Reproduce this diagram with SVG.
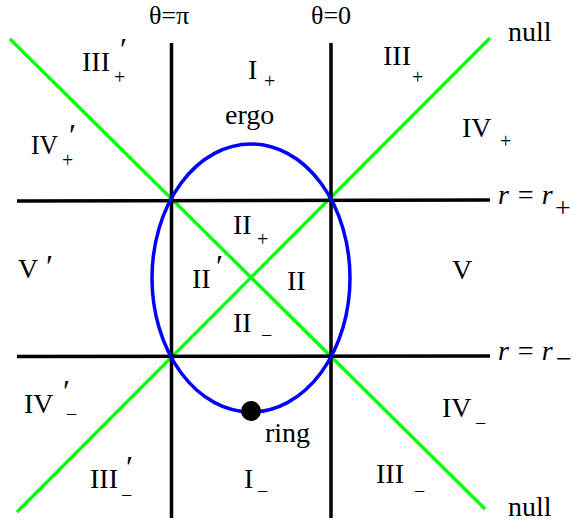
<svg xmlns="http://www.w3.org/2000/svg" width="573" height="525" viewBox="0 0 573 525">
<style>
text{font-family:"Liberation Serif","Times New Roman",serif;fill:#000}
.m{font-size:28px}
.t{font-size:26px}
.s{font-size:20px}
.p{font-size:32px}
.it{font-style:italic}
.blk{stroke:#000;stroke-width:3.5;fill:none}
.grn{stroke:#00ff00;stroke-width:3.3;fill:none}
.blu{stroke:#0000ff;stroke-width:3.5;fill:none}
</style>
<rect width="573" height="525" fill="#fff"/>
<g id="connectors">
<line class="grn" x1="10" y1="39" x2="485" y2="509"/>
<line class="grn" x1="490" y1="38" x2="17" y2="512"/>
<line class="blk" x1="171.5" y1="43" x2="171.5" y2="518"/>
<line class="blk" x1="331" y1="43" x2="331" y2="518"/>
<line class="blk" x1="17" y1="201" x2="490" y2="200"/>
<line class="blk" x1="17" y1="356.5" x2="490" y2="356"/>
</g>
<g id="ergo-surface"><ellipse class="blu" cx="251" cy="278" rx="99" ry="134"/></g>
<g id="ring"><circle cx="251" cy="411" r="10" fill="#000"/><text class="m" x="265" y="442">ring</text></g>
<g id="theta-pi"><text class="t" x="149" y="24">θ=π</text></g>
<g id="theta-0"><text class="t" x="311" y="24">θ=0</text></g>
<g id="null-top"><text class="m" x="508" y="41">null</text></g>
<g id="null-bottom"><text class="m" x="508" y="516">null</text></g>
<g id="ergo"><text class="m" x="225" y="124">ergo</text></g>
<g id="III-p-plus"><text class="m" x="82" y="71">III</text><text class="p" x="120" y="60">′</text><text class="s" x="114" y="84">+</text></g>
<g id="I-plus"><text class="m" x="248" y="79">I</text><text class="s" x="264" y="88">+</text></g>
<g id="IV-p-plus"><text class="m" x="31" y="154" textLength="27" lengthAdjust="spacingAndGlyphs">IV</text><text class="p" x="69" y="146">′</text><text class="s" x="62" y="167">+</text></g>
<g id="III-plus"><text class="m" x="383" y="65">III</text><text class="s" x="412" y="84">+</text></g>
<g id="IV-plus"><text class="m" x="462" y="137">IV</text><text class="s" x="500" y="148">+</text></g>
<g id="II-plus"><text class="m" x="233" y="234">II</text><text class="s" x="257" y="246">+</text></g>
<g id="V-p"><text class="m" x="18" y="278">V</text><text class="p" x="46" y="277">′</text></g>
<g id="II-p"><text class="m" x="192" y="288">II</text><text class="p" x="216" y="277">′</text></g>
<g id="II"><text class="m" x="287" y="290">II</text></g>
<g id="V"><text class="m" x="452" y="279">V</text></g>
<g id="II-minus"><text class="m" x="233" y="332">II</text><text class="s" x="261" y="342">−</text></g>
<g id="r-plus"><text class="m it" x="498" y="204">r = r</text><text class="m" x="555" y="217">+</text></g>
<g id="r-minus"><text class="m it" x="498" y="360">r = r</text><text class="m" x="556" y="368">−</text></g>
<g id="IV-p-minus"><text class="m" x="24" y="413">IV</text><text class="p" x="63" y="402">′</text><text class="s" x="66" y="421">−</text></g>
<g id="III-p-minus"><text class="m" x="90" y="488">III</text><text class="p" x="126" y="478">′</text><text class="s" x="121" y="502">−</text></g>
<g id="I-minus"><text class="m" x="244" y="488">I</text><text class="s" x="257" y="498">−</text></g>
<g id="IV-minus"><text class="m" x="442" y="417">IV</text><text class="s" x="475" y="430">−</text></g>
<g id="III-minus"><text class="m" x="376" y="483">III</text><text class="s" x="414" y="498">−</text></g>
</svg>
